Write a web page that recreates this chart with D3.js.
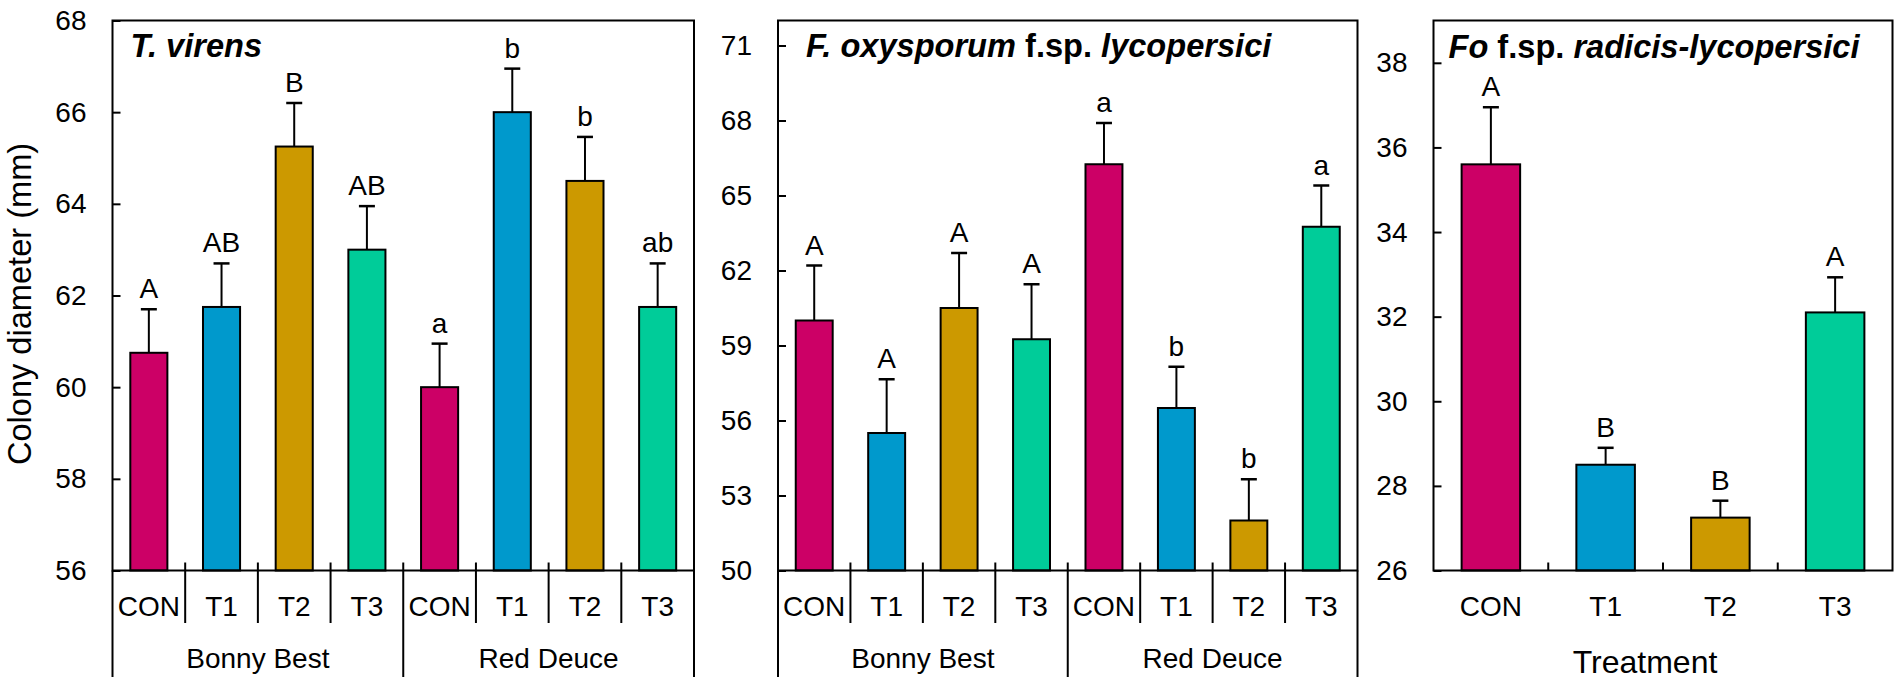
<html>
<head>
  <meta charset="UTF-8">
  <title>Colony diameter</title>
  <script src="https://d3js.org/d3.v7.min.js"></script>
  <style>
    body { margin: 0; background: #fff; }
    text { font-family: "Liberation Sans", Arial, sans-serif; fill: #000; }
  </style>
</head>
<body>

    <svg id="chart" width="1902" height="686"></svg>

    <script>

        // ---- data ----
        const cultivarCats = ["CON", "T1", "T2", "T3", "CON", "T1", "T2", "T3"];
        const cultivars = ["Bonny Best", "Red Deuce"];
        const treatCats = ["CON", "T1", "T2", "T3"];
        const barColors = ["#CC0066", "#0099CC", "#CC9900", "#00CC99"];

        const tvMeans = [60.75, 61.75, 65.25, 63.0, 60.0, 66.0, 64.5, 61.75];
        const tvErr = [0.95, 0.95, 0.95, 0.95, 0.95, 0.95, 0.96, 0.95];
        const tvLetters = ["A", "AB", "B", "AB", "a", "b", "b", "ab"];
        const tvTicks = [56, 58, 60, 62, 64, 66, 68];

        const folMeans = [60.0, 55.5, 60.5, 59.25, 66.25, 56.5, 52.0, 63.75];
        const folErr = [2.2, 2.15, 2.2, 2.2, 1.65, 1.65, 1.65, 1.65];
        const folLetters = ["A", "A", "A", "A", "a", "b", "b", "a"];
        const folTicks = [50, 53, 56, 59, 62, 65, 68, 71];

        const forlMeans = [35.6, 28.5, 27.25, 32.1];
        const forlErr = [1.35, 0.4, 0.4, 0.83];
        const forlLetters = ["A", "B", "B", "A"];
        const forlTicks = [26, 28, 30, 32, 34, 36, 38];

        const svg = d3.select("#chart");
        const plotTop = 20.5, plotBottom = 570.5;

        const panels = [
            { left: 112.5, right: 694, domain: [56, 68], ticks: tvTicks, cats: cultivarCats,
              means: tvMeans, err: tvErr, letters: tvLetters, grouped: true, titleDx: 18, titleY: 57,
              title: [["T. virens", "bold italic"]] },
            { left: 778, right: 1357.5, domain: [50, 72], ticks: folTicks, cats: cultivarCats,
              means: folMeans, err: folErr, letters: folLetters, grouped: true, titleDx: 28, titleY: 57,
              title: [["F. oxysporum", "bold italic"], [" f.sp. ", "bold"], ["lycopersici", "bold italic"]] },
            { left: 1433.5, right: 1892.5, domain: [26, 39], ticks: forlTicks, cats: treatCats,
              means: forlMeans, err: forlErr, letters: forlLetters, grouped: false, titleDx: 15, titleY: 58,
              title: [["Fo", "bold italic"], [" f.sp. ", "bold"], ["radicis-lycopersici", "bold italic"]] }
        ];

        panels.forEach(p => {
            const g = svg.append("g");
            const x = d3.scaleBand().domain(d3.range(p.cats.length)).range([p.left, p.right]);
            const y = d3.scaleLinear().domain(p.domain).range([plotBottom, plotTop]);
            const bw = x.bandwidth();
            const barW = bw * 0.51;

            // y axis with inward ticks
            const yAxis = g.append("g")
                .attr("transform", "translate(" + p.left + ",0)")
                .call(d3.axisLeft(y).tickValues(p.ticks).tickSizeInner(-8).tickSizeOuter(0).tickPadding(26));
            yAxis.select(".domain").remove();
            yAxis.selectAll("line").attr("stroke", "#000").attr("stroke-width", 2);
            yAxis.selectAll("text").attr("font-size", 28).attr("font-family", "Liberation Sans, Arial, sans-serif");

            // bars
            g.selectAll("rect.bar").data(p.means).join("rect")
                .attr("class", "bar")
                .attr("x", (d, i) => x(i) + (bw - barW) / 2)
                .attr("y", d => y(d))
                .attr("width", barW)
                .attr("height", d => plotBottom - y(d))
                .attr("fill", (d, i) => barColors[i % 4])
                .attr("stroke", "#000")
                .attr("stroke-width", 2);

            // error bars (upper only)
            const cx = i => x(i) + bw / 2;
            g.selectAll("line.err").data(p.means).join("line")
                .attr("class", "err")
                .attr("x1", (d, i) => cx(i)).attr("x2", (d, i) => cx(i))
                .attr("y1", d => y(d)).attr("y2", (d, i) => y(d + p.err[i]))
                .attr("stroke", "#000").attr("stroke-width", 2);
            g.selectAll("line.cap").data(p.means).join("line")
                .attr("class", "cap")
                .attr("x1", (d, i) => cx(i) - 8).attr("x2", (d, i) => cx(i) + 8)
                .attr("y1", (d, i) => y(d + p.err[i])).attr("y2", (d, i) => y(d + p.err[i]))
                .attr("stroke", "#000").attr("stroke-width", 2.5);

            // significance letters
            g.selectAll("text.letter").data(p.letters).join("text")
                .attr("class", "letter")
                .attr("x", (d, i) => cx(i))
                .attr("y", (d, i) => y(p.means[i] + p.err[i]) - 11)
                .attr("text-anchor", "middle")
                .attr("font-size", 28)
                .text(d => d);

            // frame
            g.append("rect")
                .attr("x", p.left).attr("y", plotTop)
                .attr("width", p.right - p.left).attr("height", plotBottom - plotTop)
                .attr("fill", "none").attr("stroke", "#000").attr("stroke-width", 2);

            // category labels
            g.selectAll("text.cat").data(p.cats).join("text")
                .attr("class", "cat")
                .attr("x", (d, i) => cx(i))
                .attr("y", 616)
                .attr("text-anchor", "middle")
                .attr("font-size", 28)
                .text(d => d);

            if (p.grouped) {
                // separators between categories, hanging below the axis
                g.selectAll("line.sep").data(d3.range(1, p.cats.length)).join("line")
                    .attr("class", "sep")
                    .attr("x1", i => x(i)).attr("x2", i => x(i))
                    .attr("y1", plotBottom - 8)
                    .attr("y2", i => i % 4 === 0 ? 677 : 623)
                    .attr("stroke", "#000").attr("stroke-width", 2);
                [p.left, p.right].forEach(v => {
                    g.append("line").attr("x1", v).attr("x2", v)
                        .attr("y1", plotBottom).attr("y2", 677)
                        .attr("stroke", "#000").attr("stroke-width", 2);
                });
                g.selectAll("text.group").data(cultivars).join("text")
                    .attr("class", "group")
                    .attr("x", (d, i) => x(i * 4) + bw * 2)
                    .attr("y", 668)
                    .attr("text-anchor", "middle")
                    .attr("font-size", 28)
                    .text(d => d);
            } else {
                g.selectAll("line.sep").data(d3.range(1, p.cats.length)).join("line")
                    .attr("class", "sep")
                    .attr("x1", i => x(i)).attr("x2", i => x(i))
                    .attr("y1", plotBottom - 8).attr("y2", plotBottom)
                    .attr("stroke", "#000").attr("stroke-width", 2);
                g.append("text")
                    .attr("x", 1645).attr("y", 673)
                    .attr("text-anchor", "middle")
                    .attr("font-size", 32)
                    .text("Treatment");
            }

            // panel title
            const t = g.append("text")
                .attr("x", p.left + p.titleDx).attr("y", p.titleY)
                .attr("font-size", 32.6);
            p.title.forEach(part => {
                t.append("tspan")
                    .attr("font-weight", "bold")
                    .attr("font-style", part[1].indexOf("italic") >= 0 ? "italic" : "normal")
                    .text(part[0]);
            });
        });

        // y-axis title
        svg.append("text")
            .attr("transform", "translate(31,304) rotate(-90)")
            .attr("text-anchor", "middle")
            .attr("font-size", 32.6)
            .text("Colony diameter (mm)");

    </script>

</body>
</html>
